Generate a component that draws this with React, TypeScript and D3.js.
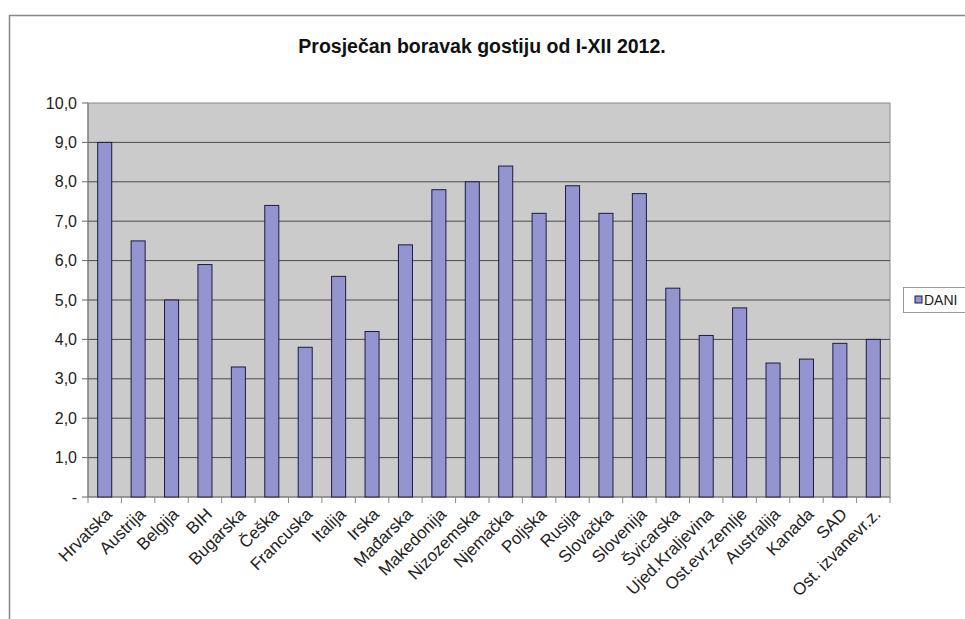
import * as d3 from "d3";

const countries = [
  "Hrvatska", "Austrija", "Belgija", "BIH", "Bugarska", "Češka", "Francuska", "Italija",
  "Irska", "Mađarska", "Makedonija", "Nizozemska", "Njemačka", "Poljska", "Rusija",
  "Slovačka", "Slovenija", "Švicarska", "Ujed.Kraljevina", "Ost.evr.zemlje",
  "Australija", "Kanada", "SAD", "Ost. izvanevr.z.",
];
const dani = [
  9.0, 6.5, 5.0, 5.9, 3.3, 7.4, 3.8, 5.6, 4.2, 6.4, 7.8, 8.0, 8.4, 7.2, 7.9, 7.2, 7.7,
  5.3, 4.1, 4.8, 3.4, 3.5, 3.9, 4.0,
];
const yTicks = [0, 1, 2, 3, 4, 5, 6, 7, 8, 9, 10];
const seriesName = "DANI";
const title = "Prosječan boravak gostiju od I-XII 2012.";

const W = 965, H = 619;
const plot = { left: 88, right: 890, top: 103, bottom: 497 };
const font = "'Liberation Sans', Arial, sans-serif";

export default function App() {
  const x = d3.scaleBand<string>()
    .domain(countries)
    .range([plot.left, plot.right])
    .paddingInner(0.58)
    .paddingOuter(0.29);
  const band = d3.scaleBand<string>().domain(countries).range([plot.left, plot.right]);
  const y = d3.scaleLinear().domain([0, 10]).range([plot.bottom, plot.top]);
  const fmt = (v: number) => (v === 0 ? "-" : d3.format(".1f")(v).replace(".", ","));

  return (
    <svg width={W} height={H} style={{ position: "absolute", left: 0, top: 0, fontFamily: font }}>
      <rect x={0} y={0} width={W} height={H} fill="#fff" />
      {/* outer frame */}
      <path d={`M9.5,${H} V15.5 H${W}`} fill="none" stroke="#888" strokeWidth={1.5} />
      <text x={482} y={53} textAnchor="middle" fontSize={19.5} fontWeight="bold" fill="#111">{title}</text>

      <rect x={plot.left} y={plot.top} width={plot.right - plot.left} height={plot.bottom - plot.top}
        fill="#cbcbcb" stroke="#8a8a8a" strokeWidth={1} />
      {yTicks.map((t) => (
        <g key={t}>
          {t > 0 && t < 10 && (
            <line x1={plot.left} x2={plot.right} y1={y(t)} y2={y(t)} stroke="#4a4a4a" strokeWidth={1} />
          )}
          <line x1={plot.left - 6} x2={plot.left} y1={y(t)} y2={y(t)} stroke="#666" />
          <text x={77} y={y(t)} dy="0.35em" textAnchor="end" fontSize={16} fill="#222">{fmt(t)}</text>
        </g>
      ))}
      <line x1={plot.left} x2={plot.left} y1={plot.top} y2={plot.bottom} stroke="#777" />
      <line x1={plot.left} x2={plot.right} y1={plot.bottom} y2={plot.bottom} stroke="#777" />
      {countries.map((c, i) => (
        <line key={"t" + i} x1={band(c)!} x2={band(c)!} y1={plot.bottom} y2={plot.bottom + 6} stroke="#888" />
      ))}
      <line x1={plot.right} x2={plot.right} y1={plot.bottom} y2={plot.bottom + 6} stroke="#888" />

      {countries.map((c, i) => (
        <rect key={c} x={x(c)!} y={y(dani[i])} width={x.bandwidth()} height={plot.bottom - y(dani[i])}
          fill="#9494d0" stroke="#1c1c40" strokeWidth={1} />
      ))}

      {countries.map((c) => {
        const cx = band(c)! + band.bandwidth() / 2 + 4;
        const cy = plot.bottom + 14;
        return (
          <text key={"l" + c} x={cx} y={cy} transform={`rotate(-45 ${cx} ${cy})`} textAnchor="end"
            dy="0.35em" fontSize={17} fill="#222">{c}</text>
        );
      })}

      {/* legend */}
      <rect x={903.5} y={287.5} width={70} height={25} fill="#fff" stroke="#999" />
      <rect x={915} y={296} width={7} height={7} fill="#9494d0" stroke="#1c1c40" />
      <text x={924} y={300} dy="0.35em" fontSize={14} fill="#222">{seriesName}</text>
    </svg>
  );
}
